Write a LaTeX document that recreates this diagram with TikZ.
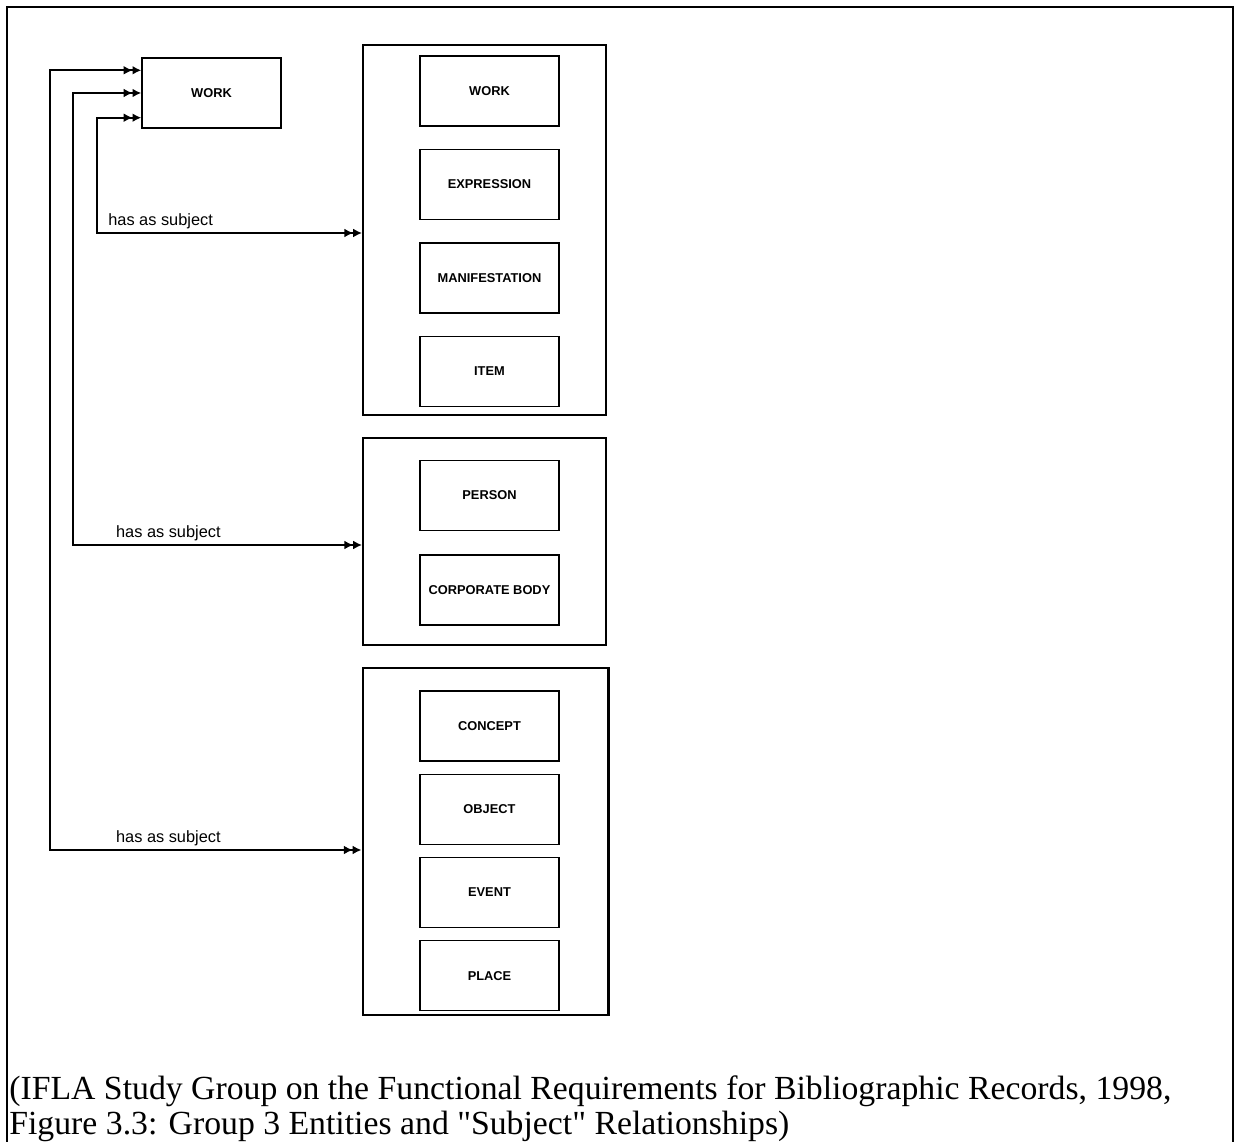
\documentclass[tikz,border=0pt]{standalone}
\usepackage{fontspec}
\setmainfont{Liberation Serif}
\setsansfont{Liberation Sans}
\usetikzlibrary{arrows.meta,positioning}
\tikzset{dtip/.tip={Latex[length=5pt,width=5pt]Latex[length=5pt,width=5pt]}}

\begin{document}
\begin{tikzpicture}[x=0.2mm,y=-0.2mm,
  entity/.style={draw,line width=.8pt,minimum width=27.8mm,minimum height=14mm,
    inner sep=0pt,font=\sffamily\bfseries\fontsize{7.3}{8}\selectfont},
  group/.style={draw,line width=1.1pt,minimum width=48.6mm,inner sep=0pt},
  subj/.style={dtip-dtip,line width=1pt},
  lbl/.style={above,inner sep=2pt,font=\sffamily\fontsize{9.3}{10}\selectfont},
  capline/.style={anchor=base west,inner sep=0pt,font=\fontsize{19.2}{22}\selectfont}]
\useasboundingbox (0,0) rectangle (1235,1142);
% page frame
\draw[line width=1.6pt] (7,1142) -- (7,7) -- (1233,7) -- (1233,1142);
\node[entity] (work) at (211.5,93) {WORK};
% group 1
\node[group,minimum height=74mm] (g1) at (484.5,230) {};
\node[entity] (g1work) at (489.5,91) {WORK};
\node[entity,below=4.4mm of g1work] (expr) {EXPRESSION};
\node[entity,below=4.4mm of expr] (manif) {MANIFESTATION};
\node[entity,below=4.4mm of manif] (item) {ITEM};
% group 2
\node[group,minimum height=41.4mm] (g2) at (484.5,541.5) {};
\node[entity] (person) at (489.5,495.5) {PERSON};
\node[entity,below=4.6mm of person] (corp) {CORPORATE BODY};
% group 3
\node[group,line width=1.7pt,minimum width=49mm,minimum height=69.4mm] (g3) at (485.5,841.5) {};
\node[entity] (concept) at (489.5,726) {CONCEPT};
\node[entity,below=2.4mm of concept] (object) {OBJECT};
\node[entity,below=2.3mm of object] (event) {EVENT};
\node[entity,below=2.4mm of event] (place) {PLACE};
% subject links
\coordinate (k1) at (97,233);
\coordinate (k2) at (73,545);
\coordinate (k3) at (50,850);
\draw[subj] ([yshift=2.2mm]work.south west) -| (k1) -- node[lbl,pos=.24]{has as subject} (k1 -| g1.west);
\draw[subj] (work.west) -| (k2) -- node[lbl,pos=.33]{has as subject} (k2 -| g2.west);
\draw[subj] ([yshift=-2.6mm]work.north west) -| (k3) -- node[lbl,pos=.38]{has as subject} (k3 -| g3.west);
% caption
\node[capline] (capa) at (9,1099) {(IFLA Study Group on the Functional Requirements for Bibliographic Records, 1998,};
\node[capline] (capb) at (9,1134) {Figure 3.3: Group 3 Entities and \textquotedbl Subject\textquotedbl{} Relationships)};
\end{tikzpicture}
\end{document}
